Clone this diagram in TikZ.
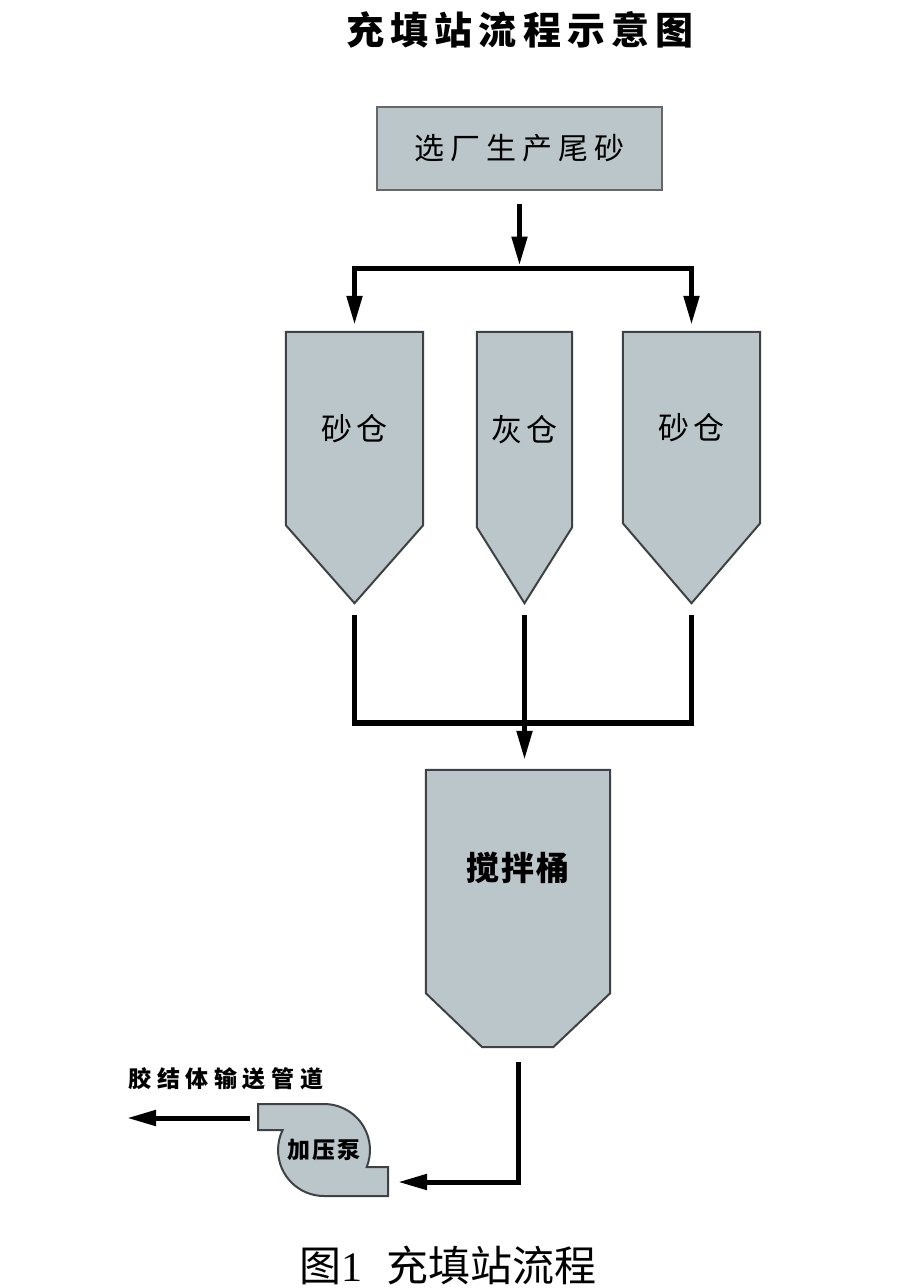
\documentclass[tikz,border=0pt]{standalone}
\usepackage{fontspec}
\setmainfont{Liberation Serif}
\newfontfamily\cjk{Noto Sans CJK SC}
\usepackage{tikz}
\usetikzlibrary{arrows.meta,positioning,calc,backgrounds}
\definecolor{binfill}{RGB}{186,198,202}
\definecolor{binline}{RGB}{62,66,68}
\newcommand\cjkset[2]{\cjk\fontsize{#1}{#1}\selectfont\addfontfeature{LetterSpace=#2}}
\newcommand\cjkbold[2]{\cjk\bfseries\fontsize{#1}{#1}\selectfont\addfontfeature{LetterSpace=#2}}

\begin{document}
\begin{tikzpicture}[
  x=1pt, y=1pt,
  bin/.style={inner sep=0pt, align=center, font=\cjkset{31}{16}},
  silo/.style={bin, minimum width=#1},
  binshape/.style={fill=binfill, draw=binline, line width=2pt, line join=miter},
  flow/.style={line width=5pt, -{Triangle[length=29pt,width=15pt]}},
  pipe/.style={line width=5.5pt, line join=miter},
]
\useasboundingbox (0,0) rectangle (908,-1288);

\node[font=\cjkbold{38}{16}] (title) at (520,-30) {充填站流程示意图};

\node[binshape, draw=binline!80, minimum width=285pt, minimum height=83pt, font=\cjkset{30}{20}] (tailings) at (519.5,-148.5) {选厂生产尾砂};

\node[silo=137pt, minimum height=193pt] (sandL) at (354.5,-428.5) {砂仓};
\node[silo=95pt, minimum height=195pt] (ash) at (524.5,-429.5) {灰仓};
\node[silo=137pt, minimum height=191pt] (sandR) at (691.5,-427.5) {砂仓};

\node[bin, minimum width=184pt, minimum height=223pt] (mixer) at (518,-881.5) {};
\node[font=\cjkbold{33}{6}] (mixlabel) at (518,-868) {搅拌桶};

\node[bin, circle, minimum size=92pt, font=\cjkbold{23}{8}] (pump) at (324,-1150) {加压泵};

\begin{scope}[on background layer]
\foreach \n/\d in {sandL/78,ash/76,sandR/80}
  \path[binshape] (\n.north west) -- (\n.north east) -- (\n.south east) -- ($(\n.south)+(0,-\d)$) coordinate (\n-tip) -- (\n.south west) -- cycle;
\path[binshape] (mixer.north west) -- (mixer.north east) -- (mixer.south east) -- ++(-57,-54) -- ++(-71,0) -- (mixer.south west) -- cycle;
\path[binshape] (pump.center) ++(-66,46) -- ++(66,0) arc[start angle=90, end angle=-21.7, radius=46] -- ++(21.3,0) -- ++(0,-29) -- ++(-64,0) arc[start angle=-90, end angle=-205.8, radius=46] -- ++(-24.6,0) -- cycle;
\end{scope}

\coordinate (split) at (520,-268);
\coordinate (merge) at (524,-723);
\coordinate (mixer-out) at (518,-1047);
\coordinate (pump-in) at (388,-1182);
\coordinate (pump-out) at (258,-1118);
\coordinate (outlet) at (127,-1118);

\draw[flow, shorten <=13pt, shorten >=2.5pt] (tailings.south) -- (tailings.south |- split);
\foreach \n in {sandL,sandR} \draw[flow, shorten >=7pt] (split) -| (\n.north);

\draw[pipe] ([yshift=-12pt]sandL-tip) |- (merge) -| ([yshift=-12pt]sandR-tip);
\draw[flow, shorten <=12pt, shorten >=10pt] (ash-tip) -- (ash-tip |- mixer.north);

\draw[flow, shorten <=15pt, shorten >=10pt] (mixer-out) |- (pump-in);
\draw[flow, shorten <=8pt] (pump-out) -- (outlet);
\node[font=\cjkbold{23}{24}] (pipeline) at (226,-1079) {胶结体输送管道};

\node[font=\fontsize{42}{42}\selectfont] (caption) at (448,-1265) {{\cjk 图}1\hspace{0.55em}{\cjk 充填站流程}};
\end{tikzpicture}
\end{document}
